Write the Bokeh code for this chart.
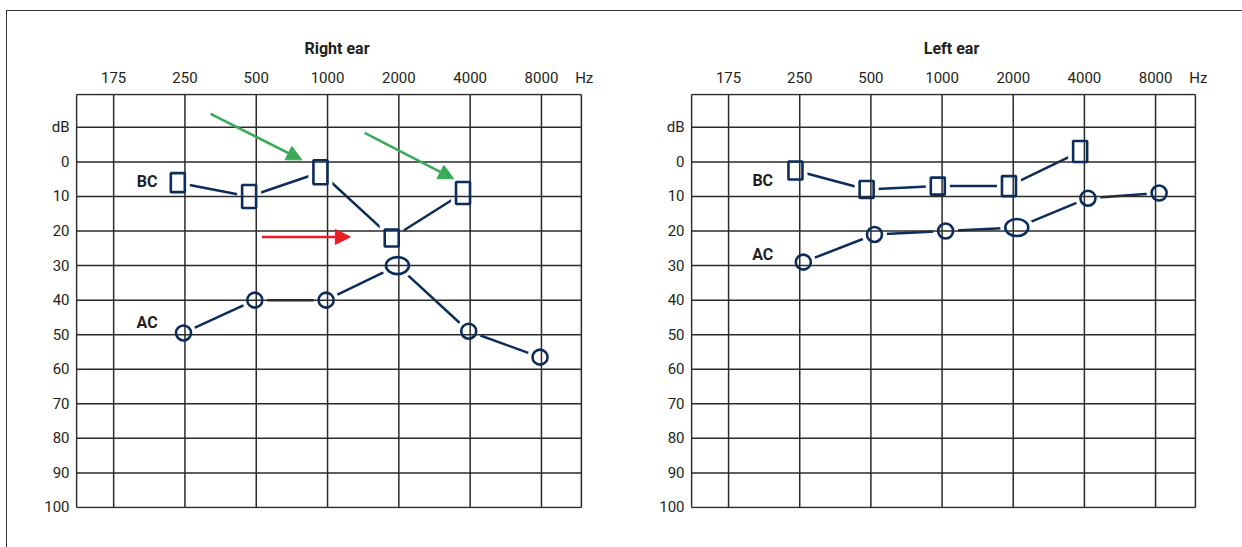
import numpy as np
from bokeh.plotting import figure
from bokeh.layouts import row
from bokeh.models import Range1d, FixedTicker, Label, Arrow, NormalHead
from bokeh.embed import file_html
from bokeh.resources import INLINE

# ---------------- data ----------------
freq_labels = ["175", "250", "500", "1000", "2000", "4000", "8000"]
unit_label = "Hz"
db_ticks = [-10, 0, 10, 20, 30, 40, 50, 60, 70, 80, 90, 100]
db_labels = ["dB", "0", "10", "20", "30", "40", "50", "60", "70", "80", "90", "100"]

bc_freqs = ["250", "500", "1000", "2000", "4000"]
ac_freqs = ["250", "500", "1000", "2000", "4000", "8000"]

right_ear_bc = [6, 10, 3, 22, 9]
right_ear_ac = [49.5, 40, 40, 30, 49, 56.5]
left_ear_bc = [2.5, 8, 7, 7, -3]
left_ear_ac = [29, 21, 20, 19, 10.5, 9]

# arrows on the right-ear audiogram: (from freq index, from dB, to freq index, to dB)
green_arrows = [(1.36, -13.9, 2.64, -0.6), (3.52, -8.4, 4.77, 4.9)]
red_arrows = [(2.08, 21.7, 3.32, 21.7)]

# ---------------- style ----------------
FONT = "Roboto"
FSIZE = "15px"
TSIZE = "16px"
TEXT = "#231f20"
NAVY = "#0b2d5b"
GRID = "#2a2a2a"
GREEN = "#3aaa59"
RED = "#ec1c24"

X_LO, X_HI = -0.52, 6.56      # edges of the audiogram grid (in frequency-column units)
Y_TOP, Y_BOT = -19.5, 100     # edges of the audiogram grid (dB)
HZ_POS = 6.6


def make_panel(title, bc, ac, bc_h, ac_w, ac_h, bc_dx, ac_dx, bc_pos, ac_pos,
               width, mb_left, mb_right, arrows=()):
    p = figure(width=width, height=536,
               x_range=Range1d(-0.535, 6.8), y_range=Range1d(100.3, -19.8),
               x_axis_location="above", y_axis_location="left",
               output_backend="svg", toolbar_location=None, title=title,
               min_border_left=mb_left, min_border_right=mb_right,
               min_border_top=82, min_border_bottom=39)
    p.background_fill_color = "white"
    p.border_fill_color = "white"
    p.outline_line_color = None
    p.grid.visible = False

    p.title.align = "center"
    p.title.text_font = FONT
    p.title.text_font_size = TSIZE
    p.title.text_font_style = "bold"
    p.title.text_color = TEXT
    p.title.standoff = 15

    xa = p.xaxis[0]
    xticks = list(range(len(freq_labels))) + [HZ_POS]
    xa.ticker = FixedTicker(ticks=xticks)
    xa.major_label_overrides = dict(zip(xticks, freq_labels + [unit_label]))
    ya = p.yaxis[0]
    ya.ticker = FixedTicker(ticks=db_ticks)
    ya.major_label_overrides = {t: s for t, s in zip(db_ticks, db_labels)}
    for ax in (xa, ya):
        ax.axis_line_color = None
        ax.major_tick_line_color = None
        ax.minor_tick_line_color = None
        ax.major_tick_out = 0
        ax.major_tick_in = 0
        ax.minor_tick_out = 0
        ax.major_label_text_font = FONT
        ax.major_label_text_font_size = FSIZE
        ax.major_label_text_color = TEXT
    xa.major_label_standoff = 7
    ya.major_label_standoff = 6

    bx = np.array([freq_labels.index(f) for f in bc_freqs], dtype=float) + bc_dx
    ax_ = np.array([freq_labels.index(f) for f in ac_freqs], dtype=float) + ac_dx
    bc_w = [14] * len(bc)

    p.line(bx, bc, line_color=NAVY, line_width=2.5)
    p.line(ax_, ac, line_color=NAVY, line_width=2.5)

    halo = 10
    p.rect(bx, bc, width=[w + halo for w in bc_w], height=[h + halo for h in bc_h],
           width_units="screen", height_units="screen", fill_color="white", line_color=None)
    p.ellipse(ax_, ac, width=[w + halo for w in ac_w], height=[h + halo for h in ac_h],
              width_units="screen", height_units="screen", fill_color="white", line_color=None)

    # audiogram grid, drawn above the marker halos
    vx = [X_LO] + list(range(len(freq_labels))) + [X_HI]
    p.segment(x0=vx, y0=[Y_TOP] * len(vx), x1=vx, y1=[Y_BOT] * len(vx),
              line_color=GRID, line_width=1.5)
    hy = [Y_TOP] + db_ticks
    p.segment(x0=[X_LO] * len(hy), y0=hy, x1=[X_HI] * len(hy), y1=hy,
              line_color=GRID, line_width=1.5)

    p.rect(bx, bc, width=bc_w, height=bc_h, width_units="screen", height_units="screen",
           fill_color=None, line_color=NAVY, line_width=2.6)
    p.ellipse(ax_, ac, width=ac_w, height=ac_h, width_units="screen", height_units="screen",
              fill_color=None, line_color=NAVY, line_width=2.6)

    p.add_layout(Label(x=bc_pos[0], y=bc_pos[1], text="BC", text_font=FONT, text_font_size=TSIZE,
                       text_font_style="bold", text_color=TEXT, text_align="center",
                       text_baseline="middle"))
    p.add_layout(Label(x=ac_pos[0], y=ac_pos[1], text="AC", text_font=FONT, text_font_size=TSIZE,
                       text_font_style="bold", text_color=TEXT, text_align="center",
                       text_baseline="middle"))

    for (x0, y0, x1, y1), col in arrows:
        p.add_layout(Arrow(x_start=x0, y_start=y0, x_end=x1, y_end=y1,
                           line_color=col, line_width=2.5,
                           end=NormalHead(size=15, fill_color=col, line_color=col)))
    return p


arrow_list = [(a, GREEN) for a in green_arrows] + [(a, RED) for a in red_arrows]

p1 = make_panel("Right ear", right_ear_bc, right_ear_ac,
                bc_h=[19, 23, 24, 17, 22], ac_w=[15, 15, 15, 23, 15, 15], ac_h=[15, 15, 15, 17, 15, 15],
                bc_dx=-0.1, ac_dx=-0.02, bc_pos=(0.47, 5.8), ac_pos=(0.47, 46.5),
                width=614, mb_left=68, mb_right=23, arrows=arrow_list)
p2 = make_panel("Left ear", left_ear_bc, left_ear_ac,
                bc_h=[18, 17, 17, 20, 21], ac_w=[15, 15, 15, 23, 15, 15], ac_h=[15, 15, 15, 17, 15, 15],
                bc_dx=-0.06, ac_dx=0.05, bc_pos=(0.48, 5.5), ac_pos=(0.48, 26.9),
                width=621, mb_left=69, mb_right=30)

layout = row(p1, p2, styles={"margin-left": "6px", "margin-top": "10px",
                             "border-top": "1px solid #333", "border-left": "1px solid #333"})

open("out.html", "w").write(file_html(layout, INLINE))
